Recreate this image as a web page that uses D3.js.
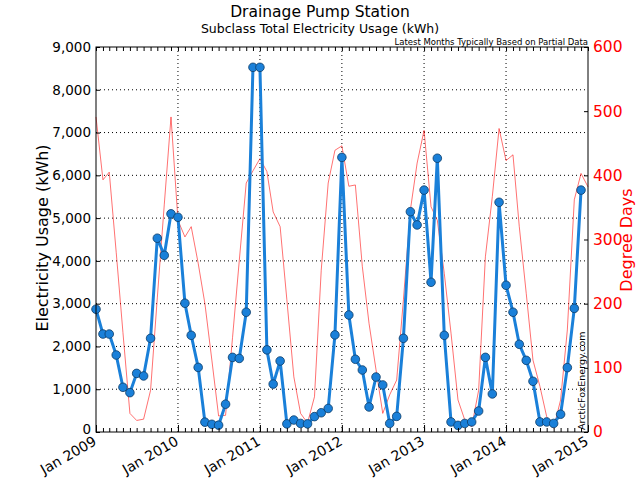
<!DOCTYPE html>
<html><head><meta charset="utf-8">
<script src="https://cdn.jsdelivr.net/npm/d3@7/dist/d3.min.js"></script>
<style>body{margin:0;background:#fff;} text{font-family:"DejaVu Sans",sans-serif;}</style>
</head><body><svg id="c" width="640" height="480"></svg>
<script>
const title = "Drainage Pump Station";
const subtitle = "Subclass Total Electricity Usage (kWh)";
const note = "Latest Months Typically Based on Partial Data";
const watermark = "ArcticFoxEnergy.com";
const startMonth = "2009-01";
const usage = [
  2870, 2290, 2290, 1800, 1045, 920, 1370, 1310, 2190, 4530, 4130, 5100,
  5020, 3010, 2260, 1510, 230, 180, 160, 650, 1745, 1720, 2800, 8525,
  8525, 1920, 1120, 1660, 190, 280, 200, 190, 360, 450, 550, 2270,
  6420, 2735, 1700, 1450, 585, 1285, 1100, 200, 365, 2190, 5150, 4840,
  5655, 3500, 6400, 2260, 235, 155, 200, 235, 490, 1745, 890, 5370,
  3430, 2800, 2050, 1675, 1185, 235, 235, 200, 415, 1505, 2890, 5655
];
const degreeDays = [
  491, 393, 405, 280, 155, 29, 18, 20, 65, 209, 354, 491,
  330, 304, 320, 263, 200, 112, 25, 26, 147, 267, 388, 407,
  426, 406, 343, 320, 206, 86, 29, 14, 55, 252, 388, 439,
  446, 383, 385, 258, 169, 97, 29, 58, 81, 206, 346, 419,
  470, 351, 330, 247, 154, 50, 19, 8, 65, 273, 367, 473,
  423, 432, 320, 216, 112, 71, 24, 6, 50, 159, 362, 403,
  382
];
const yTicksLeft = [0,1000,2000,3000,4000,5000,6000,7000,8000,9000];
const yTicksRight = [0,100,200,300,400,500,600];
const xTickYears = [2009,2010,2011,2012,2013,2014,2015];

const svg = d3.select("#c");
const L = 96, R = 588, T = 47, B = 432;
const parse = d3.timeParse("%Y-%m");
const t0 = parse(startMonth);
const monthDate = i => d3.timeMonth.offset(t0, i);
const x = d3.scaleTime().domain([new Date(2009,0,1), new Date(2015,0,1)]).range([L, R]);
const yL = d3.scaleLinear().domain([0, 9000]).range([B, T]);
const yR = d3.scaleLinear().domain([0, 600]).range([B, T]);

// grid
const g = svg.append("g");
xTickYears.slice(1, -1).forEach(yr => {
  g.append("line").attr("x1", x(new Date(yr,0,1))).attr("x2", x(new Date(yr,0,1)))
   .attr("y1", T).attr("y2", B).attr("stroke", "#000").attr("stroke-width", 1).attr("stroke-dasharray", "1,3");
});
yTicksLeft.slice(1, -1).forEach(v => {
  g.append("line").attr("x1", L).attr("x2", R).attr("y1", yL(v)).attr("y2", yL(v))
   .attr("stroke", "#000").attr("stroke-width", 1).attr("stroke-dasharray", "1,3");
});

// degree days line
const ddLine = d3.line().x((d, i) => x(monthDate(i))).y(d => yR(d));
svg.append("path").datum(degreeDays).attr("d", ddLine).attr("fill", "none")
  .attr("stroke", "#ff0000").attr("stroke-opacity", 0.7).attr("stroke-width", 0.8);

// usage line
const uLine = d3.line().x((d, i) => x(monthDate(i))).y(d => yL(d));
svg.append("path").datum(usage).attr("d", uLine).attr("fill", "none")
  .attr("stroke", "#1a80d9").attr("stroke-width", 3).attr("stroke-linejoin", "round");
svg.append("g").selectAll("circle").data(usage).join("circle")
  .attr("cx", (d, i) => x(monthDate(i))).attr("cy", d => yL(d)).attr("r", 4.3)
  .attr("fill", "#1a80d9").attr("stroke", "#0d3b66").attr("stroke-width", 0.8);

// frame
svg.append("rect").attr("x", L).attr("y", T).attr("width", R - L).attr("height", B - T)
  .attr("fill", "none").attr("stroke", "#000").attr("stroke-width", 1);

// x axis (bottom) with inward ticks
const months = d3.timeMonth.range(new Date(2009,0,1), new Date(2015,0,2));
const xMinor = d3.axisBottom(x).tickValues(months).tickSize(-4).tickFormat("");
svg.append("g").attr("transform", `translate(0,${B})`).call(xMinor)
  .call(a => a.select(".domain").remove());
const xMinorTop = d3.axisTop(x).tickValues(months).tickSize(-4).tickFormat("");
svg.append("g").attr("transform", `translate(0,${T})`).call(xMinorTop)
  .call(a => a.select(".domain").remove());
const xMajor = d3.axisBottom(x).tickValues(xTickYears.map(yr => new Date(yr,0,1)))
  .tickSize(-7).tickFormat(d3.timeFormat("Jan %Y"));
const xg = svg.append("g").attr("transform", `translate(0,${B})`).call(xMajor);
xg.select(".domain").remove();
xg.selectAll("text").attr("font-size", 14).attr("fill", "#000")
  .attr("text-anchor", "end").attr("dy", 0).attr("y", 0)
  .attr("transform", "translate(1,12) rotate(-30)");

// left axis
const yla = svg.append("g").attr("transform", `translate(${L},0)`)
  .call(d3.axisLeft(yL).tickValues(yTicksLeft).tickSize(-4).tickPadding(5).tickFormat(d3.format(",")));
yla.select(".domain").remove();
yla.selectAll("text").attr("font-size", 13.5).attr("fill", "#000");
yla.selectAll("text").filter(d => d === 0).attr("dy", "0.1em");

// right axis
const yra = svg.append("g").attr("transform", `translate(${R},0)`)
  .call(d3.axisRight(yR).tickValues(yTicksRight).tickSize(-4).tickPadding(5));
yra.select(".domain").remove();
yra.selectAll("text").attr("font-size", 15.5).attr("fill", "#ff0000");
yra.selectAll("line").attr("stroke", "#000");

// titles
svg.append("text").attr("x", 320).attr("y", 17).attr("text-anchor", "middle")
  .attr("font-size", 15.5).text(title);
svg.append("text").attr("x", 320).attr("y", 33).attr("text-anchor", "middle")
  .attr("font-size", 12.5).text(subtitle);
svg.append("text").attr("x", R).attr("y", 45).attr("text-anchor", "end")
  .attr("font-size", 8.5).text(note);
svg.append("text").attr("transform", "translate(48,238) rotate(-90)").attr("text-anchor", "middle")
  .attr("font-size", 16).text("Electricity Usage (kWh)");
svg.append("text").attr("transform", "translate(632,240) rotate(-90)").attr("text-anchor", "middle")
  .attr("font-size", 16).attr("fill", "#ff0000").text("Degree Days");
svg.append("text").attr("transform", `translate(${R-3},${B-2}) rotate(-90)`).attr("text-anchor", "start")
  .attr("font-size", 9.5).attr("fill", "#000").text(watermark);
</script></body></html>
